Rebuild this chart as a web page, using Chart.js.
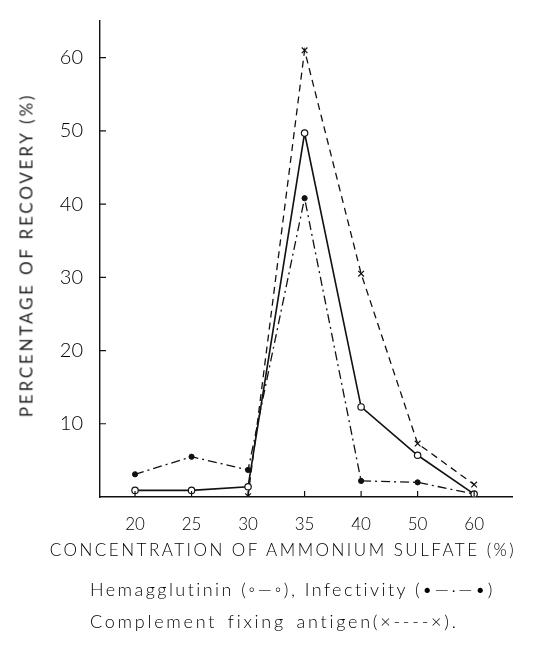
<!DOCTYPE html>
<html>
<head>
<meta charset="utf-8">
<script src="https://cdn.jsdelivr.net/npm/chart.js@4"></script>
<style>
  html, body { margin: 0; padding: 0; background: #fff; }
  #wrap { position: relative; width: 554px; height: 647px; }
  canvas { position: absolute; left: 0; top: 0; }
  .txt { position: absolute; font-family: Lato, "DejaVu Sans", sans-serif; font-weight: 300; color: #000; white-space: nowrap; }
</style>
</head>
<body>
<div id="wrap">
  <canvas id="c" width="554" height="647"></canvas>
  <div class="txt" id="ytitle" style="left:26px; top:255px; font-size:17px; letter-spacing:2.8px; font-weight:400; color:#222; transform: translate(-50%,-50%) rotate(-90deg);">PERCENTAGE OF RECOVERY (%)</div>
  <div class="txt" style="left:40px; width:486px; top:539px; font-size:17px; letter-spacing:2.5px; text-align:center;">CONCENTRATION OF AMMONIUM SULFATE (%)</div>
  <div class="txt" style="left:90px; top:578px; font-size:18px; letter-spacing:2.45px;">Hemagglutinin (◦—◦), Infectivity (•—·—•)</div>
  <div class="txt" style="left:90px; top:610px; font-size:18px; letter-spacing:2.75px; word-spacing:3px;">Complement fixing antigen(×----×).</div>
</div>
<script>
const categories = ["20", "25", "30", "35", "40", "50", "60"];
const hemagglutinin = [0.9, 0.9, 1.4, 49.7, 12.3, 5.7, 0.4];
const infectivity = [3.1, 5.5, 3.7, 40.8, 2.2, 2.0, 0.4];
const cfAntigen = [null, null, 0.1, 61.0, 30.5, 7.3, 1.7];
const yTicks = [10, 20, 30, 40, 50, 60];

const toPts = arr => arr.map((v, i) => ({ x: i, y: v }));

const inwardTicks = {
  id: 'inwardTicks',
  afterDraw(chart) {
    const ctx = chart.ctx;
    const xs = chart.scales.x, ys = chart.scales.y;
    ctx.save();
    ctx.strokeStyle = '#111';
    ctx.lineWidth = 1.2;
    ctx.beginPath();
    categories.forEach((c, i) => {
      const px = xs.getPixelForValue(i);
      ctx.moveTo(px, xs.top); ctx.lineTo(px, xs.top - 6);
    });
    yTicks.forEach(v => {
      const py = ys.getPixelForValue(v);
      ctx.moveTo(ys.right, py); ctx.lineTo(ys.right + 6, py);
    });
    ctx.stroke();
    ctx.restore();
  }
};

new Chart(document.getElementById('c'), {
  type: 'line',
  data: {
    datasets: [
      {
        label: 'Hemagglutinin',
        data: toPts(hemagglutinin),
        borderColor: '#111', borderWidth: 1.6,
        pointStyle: 'circle', pointRadius: 3.2, pointBackgroundColor: '#fff',
        pointBorderColor: '#111', pointBorderWidth: 1.2,
        tension: 0
      },
      {
        label: 'Infectivity',
        data: toPts(infectivity),
        borderColor: '#111', borderWidth: 1.3, borderDash: [9, 4, 2, 4],
        pointStyle: 'circle', pointRadius: 2.6, pointBackgroundColor: '#111',
        pointBorderColor: '#111', pointBorderWidth: 1,
        tension: 0
      },
      {
        label: 'Complement fixing antigen',
        data: toPts(cfAntigen),
        borderColor: '#111', borderWidth: 1.3, borderDash: [7, 5],
        pointStyle: 'crossRot', pointRadius: 4, pointBorderColor: '#111',
        pointBorderWidth: 1.2, spanGaps: false,
        tension: 0
      }
    ]
  },
  options: {
    responsive: false,
    animation: false,
    layout: { padding: { top: 10, right: 42, left: 0, bottom: 0 } },
    plugins: { legend: { display: false }, tooltip: { enabled: false } },
    scales: {
      x: {
        type: 'linear', min: -0.62, max: 6.67,
        afterFit: s => { s.height = 150; },
        afterBuildTicks: s => { s.ticks = categories.map((c, i) => ({ value: i })); },
        grid: { display: false },
        border: { display: true, color: '#111', width: 1.4 },
        ticks: {
          callback: v => categories[v] !== undefined ? categories[v] : '',
          color: '#000', padding: 9, maxRotation: 0, autoSkip: false,
          font: { family: 'Lato, "DejaVu Sans", sans-serif', size: 17, weight: 300 }
        }
      },
      y: {
        min: 0, max: 65,
        afterFit: s => { s.width = 100; },
        afterBuildTicks: s => { s.ticks = yTicks.map(v => ({ value: v })); },
        grid: { display: false },
        border: { display: true, color: '#111', width: 1.4 },
        ticks: {
          color: '#000', padding: 9,
          font: { family: 'Lato, "DejaVu Sans", sans-serif', size: 20, weight: 300 }
        }
      }
    }
  },
  plugins: [inwardTicks]
});
</script>
</body>
</html>
